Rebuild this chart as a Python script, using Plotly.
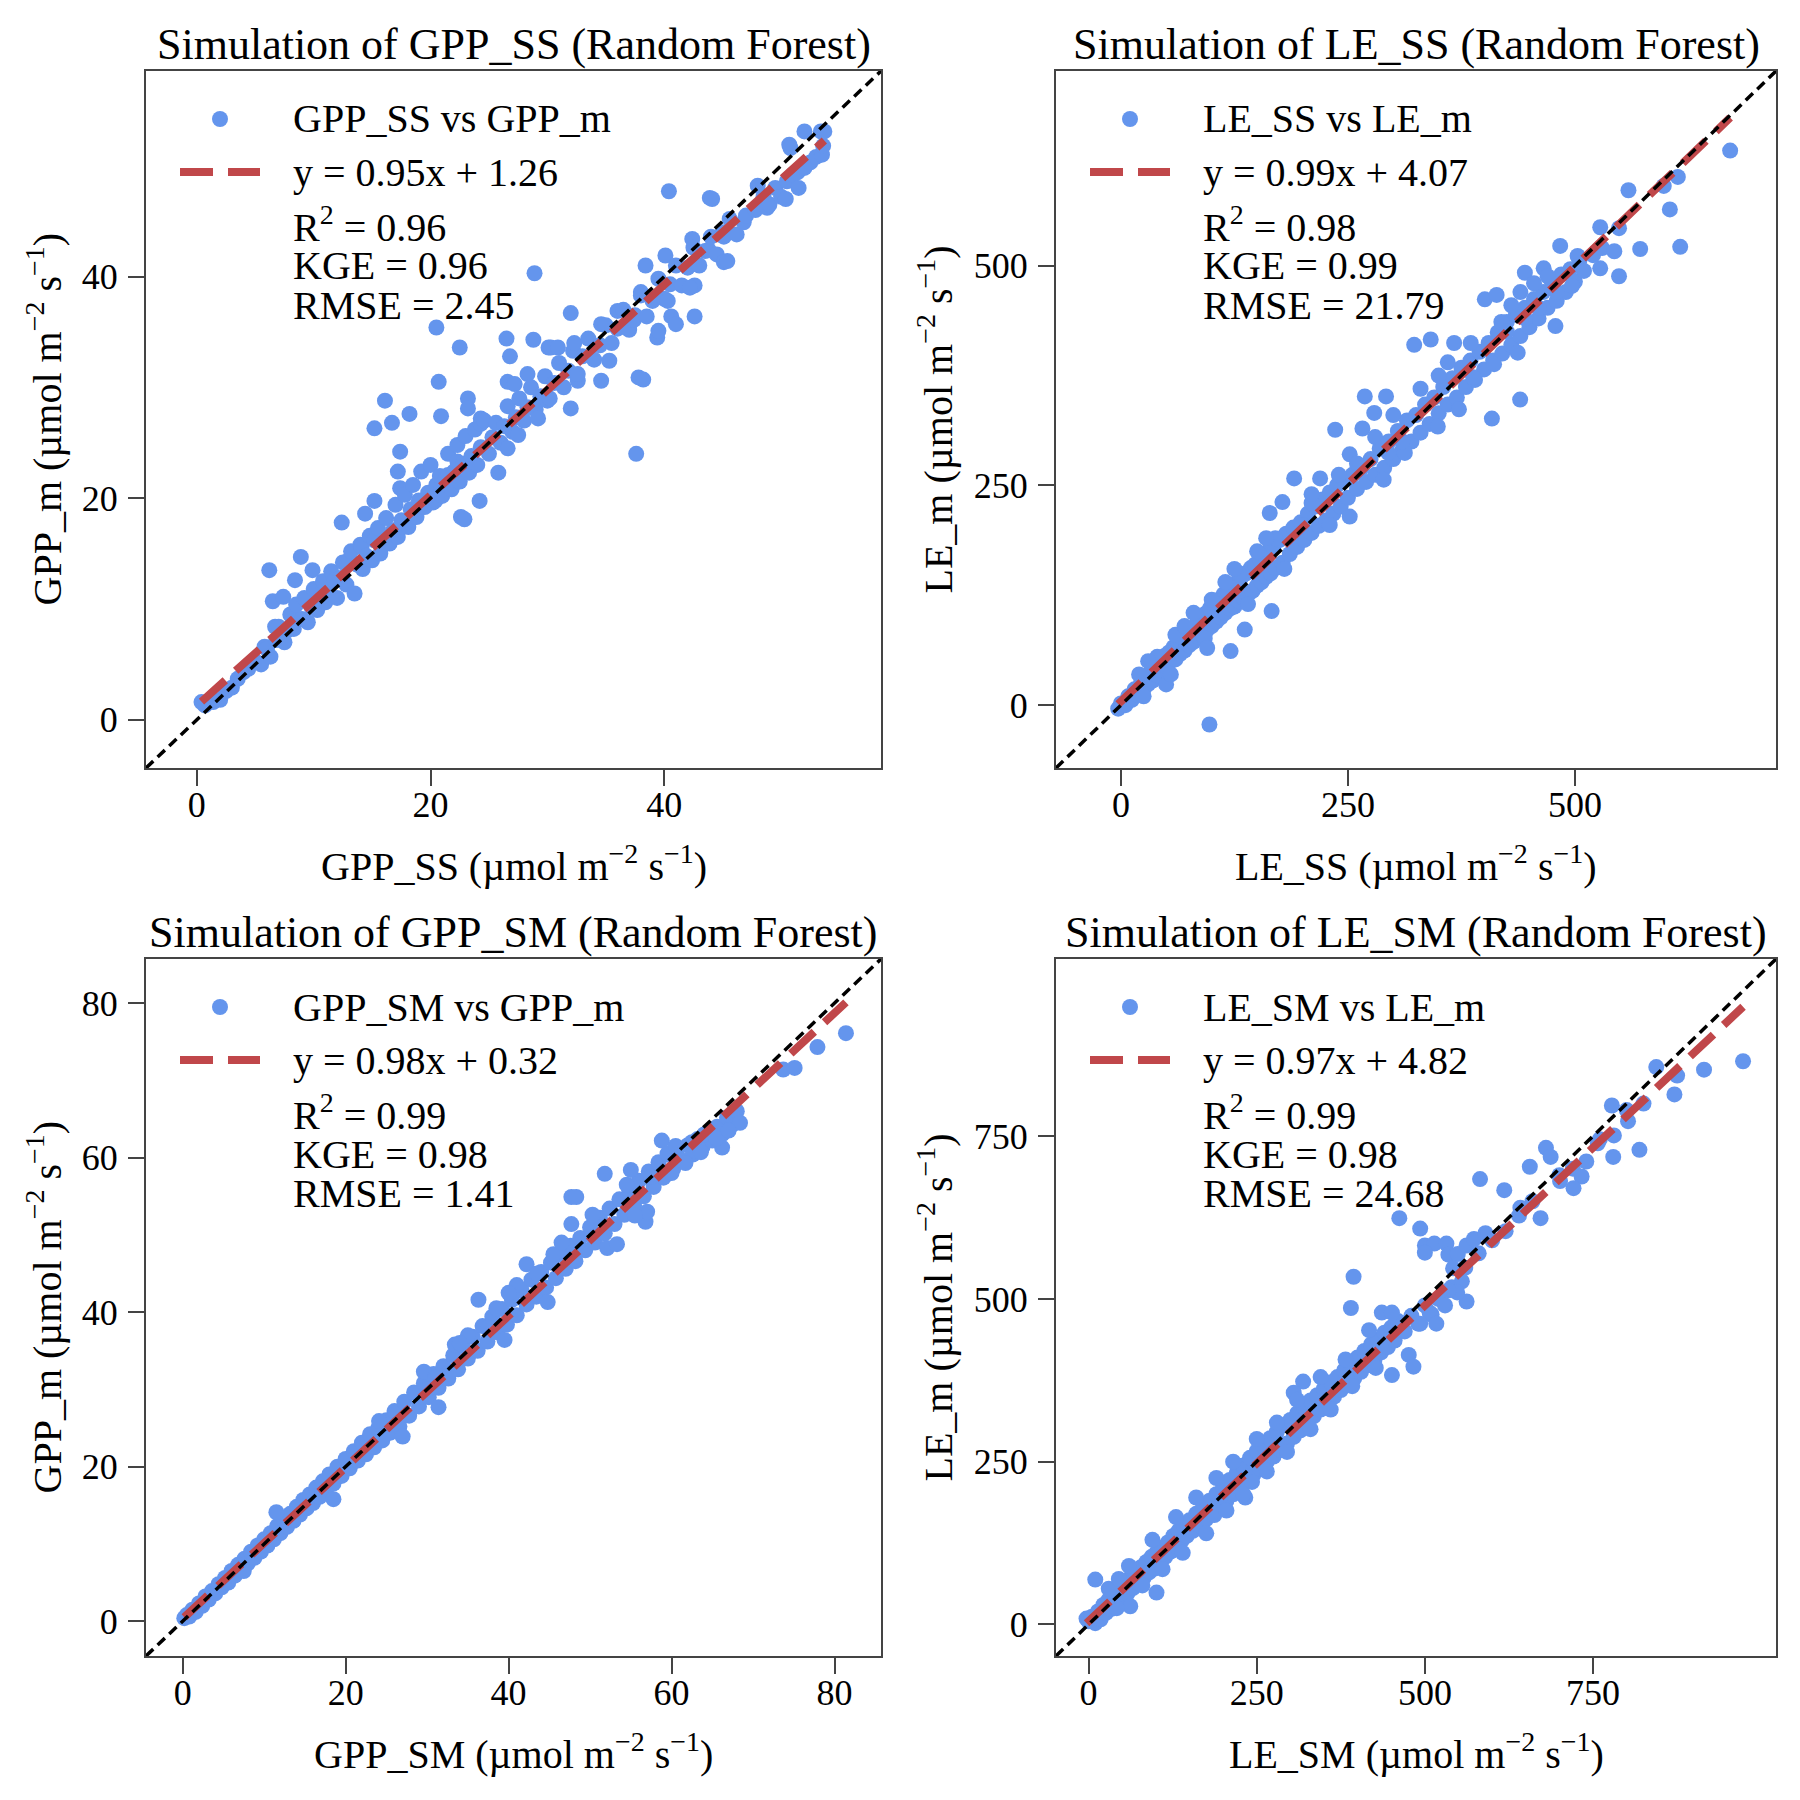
import plotly.graph_objects as go

W = H = 1800
FONT = "Liberation Serif"
BLUE = "#6495ED"
RED = "#C0474A"
FRAME = "#444444"

# ---- chart text ----
titles = [
    "Simulation of GPP_SS (Random Forest)",
    "Simulation of LE_SS (Random Forest)",
    "Simulation of GPP_SM (Random Forest)",
    "Simulation of LE_SM (Random Forest)",
]
unit = "(µmol m<sup>−2</sup> s<sup>−1</sup>)"
x_titles = ["GPP_SS " + unit, "LE_SS " + unit, "GPP_SM " + unit, "LE_SM " + unit]
y_titles = ["GPP_m " + unit, "LE_m " + unit, "GPP_m " + unit, "LE_m " + unit]
point_names = ["GPP_SS vs GPP_m", "LE_SS vs LE_m", "GPP_SM vs GPP_m", "LE_SM vs LE_m"]

# ---- fit statistics ----
slopes = [0.95, 0.99, 0.98, 0.97]
intercepts = [1.26, 4.07, 0.32, 4.82]
r2_vals = ["0.96", "0.98", "0.99", "0.99"]
kge_vals = ["0.96", "0.99", "0.98", "0.98"]
rmse_vals = ["2.45", "21.79", "1.41", "24.68"]

# ---- axes ----
tick_vals = [[0, 20, 40], [0, 250, 500], [0, 20, 40, 60, 80], [0, 250, 500, 750]]
axis_ranges = [(-4.35, 58.55), (-71.5, 721.5), (-4.5, 85.7), (-48.4, 1022.0)]

gpp_ss_pts = [
    (0.7, 1.3), (0.4, 1.6), (1.4, 1.6), (2.0, 1.8), (2.5, 2.6), (3.0, 2.9), (3.5, 3.7), (4.0, 4.3),
    (4.4, 4.6), (5.0, 5.3), (5.5, 5.0), (5.8, 6.6), (6.0, 6.4), (6.3, 5.7), (6.5, 10.7), (6.7, 8.4),
    (6.8, 7.2), (7.0, 8.4), (7.4, 11.1), (7.5, 7.0), (7.8, 8.1), (8.0, 9.5), (8.4, 12.6), (8.3, 8.2),
    (8.7, 9.1), (8.5, 10.4), (9.0, 9.1), (9.2, 11.0), (9.5, 8.8), (9.8, 10.2), (10.0, 11.8), (10.1, 10.2),
    (10.3, 9.9), (10.5, 10.8), (10.7, 11.4), (10.8, 12.5), (11.0, 10.6), (11.3, 11.4), (11.5, 13.4),
    (11.8, 12.6), (12.0, 11.0), (12.3, 12.8), (12.5, 14.2), (12.8, 12.2), (13.0, 14.4), (13.2, 15.2),
    (13.5, 11.4), (13.7, 14.0), (14.0, 15.8), (14.1, 15.6), (14.2, 13.6), (14.4, 18.6), (14.5, 14.8),
    (14.8, 16.6), (15.0, 14.4), (15.2, 16.2), (15.2, 19.75), (15.5, 17.3), (15.7, 15.0), (16.0, 16.2),
    (16.2, 18.2), (16.5, 15.9), (16.7, 16.8), (16.8, 17.1), (17.0, 19.4), (17.2, 22.4), (17.2, 16.5),
    (17.4, 20.9), (17.4, 24.2), (17.5, 18.0), (17.8, 20.3), (18.0, 17.6), (18.1, 17.4), (18.3, 19.0),
    (18.5, 21.2), (18.7, 18.6), (18.8, 18.3), (19.0, 19.8), (19.2, 22.4), (19.5, 19.2), (19.8, 20.5),
    (20.0, 23.0), (20.2, 19.6), (20.4, 19.75), (20.5, 21.2), (20.8, 22.0), (20.9, 20.9), (20.9, 27.4),
    (21.0, 20.2), (21.3, 21.8), (21.5, 22.1), (21.5, 24.0), (21.8, 20.8), (22.0, 22.4), (22.3, 23.3),
    (22.3, 24.8), (22.5, 21.5), (22.6, 18.3), (22.8, 23.1), (23.0, 25.6), (23.2, 29.0), (23.2, 28.1),
    (23.3, 22.3), (23.5, 23.8), (23.8, 26.2), (24.0, 23.0), (24.2, 19.75), (24.3, 24.6), (24.3, 27.2),
    (24.3, 26.7), (24.6, 27.0), (25.0, 24.0), (25.3, 25.5), (25.6, 26.8), (25.8, 22.3), (26.0, 25.0),
    (26.3, 26.5), (26.6, 28.3), (26.6, 30.5), (26.6, 24.5), (26.8, 32.8), (27.0, 26.0), (27.2, 30.3),
    (27.3, 27.3), (27.5, 25.7), (27.6, 29.0), (28.0, 27.0), (28.3, 28.2), (28.3, 31.2), (28.6, 30.0),
    (28.8, 34.3), (28.9, 40.3), (29.0, 28.0), (29.2, 27.2), (29.4, 29.2), (29.8, 31.0), (30.0, 28.8),
    (30.1, 33.6), (30.2, 29.0), (30.3, 33.6), (30.6, 30.4), (30.9, 33.6), (31.0, 32.2), (31.4, 30.0),
    (31.8, 31.5), (32.0, 28.1), (32.0, 36.7), (32.2, 33.3), (32.3, 34.0), (32.6, 30.6), (32.6, 31.2),
    (33.0, 32.8), (33.5, 34.4), (34.0, 32.5), (34.5, 33.8), (34.6, 35.7), (34.6, 30.6), (35.0, 35.6),
    (35.3, 32.4), (35.5, 34.0), (36.0, 36.9), (36.0, 35.3), (36.5, 37.0), (37.0, 35.2), (37.4, 36.1),
    (37.5, 36.5), (37.6, 24.0), (37.8, 30.9), (38.0, 38.3), (38.0, 38.6), (38.4, 41.0), (38.5, 36.4),
    (39.0, 37.8), (39.4, 34.5), (39.5, 39.8), (40.0, 38.0), (40.1, 41.9), (40.3, 37.8), (40.4, 47.7),
    (40.5, 39.3), (40.6, 36.4), (41.0, 41.0), (41.5, 39.2), (42.0, 40.8), (42.4, 43.4), (42.5, 42.6),
    (42.6, 39.2), (43.0, 41.0), (43.5, 42.3), (43.8, 42.4), (43.9, 47.1), (44.0, 43.6), (44.5, 42.0),
    (45.0, 44.0), (45.1, 43.6), (45.1, 41.3), (45.6, 45.2), (46.2, 43.8), (46.8, 44.9), (47.0, 45.5),
    (47.8, 46.0), (48.0, 48.2), (48.5, 47.2), (48.8, 46.2), (49.0, 46.5), (49.5, 48.0), (50.0, 47.2),
    (50.4, 47.0), (50.5, 48.6), (50.7, 51.9), (51.0, 49.2), (51.4, 49.4), (51.5, 48.0), (52.0, 49.8),
    (52.5, 50.3), (53.0, 50.8), (53.4, 53.1), (53.5, 51.0), (53.6, 51.8),
    (20.5, 35.4), (22.5, 33.6), (16.1, 28.8), (18.2, 27.6), (15.2, 26.3), (16.7, 26.8), (20.7, 30.5),
    (26.5, 34.4), (6.2, 13.5), (8.9, 14.7), (9.9, 13.5), (12.4, 17.8), (22.9, 18.1), (45.4, 41.4),
    (42.2, 39.0), (39.5, 35.1), (41.0, 35.7), (42.6, 36.4), (52.0, 53.1), (50.8, 51.6), (53.7, 53.1),
    (44.1, 47.0), (38.2, 30.7),
]

le_ss_pts = [
    (-3, -4), (0, 2), (5, 0), (8, 10), (12, 6), (15, 18), (18, 12), (22, 25), (25, 18), (28, 32), (30, 24),
    (33, 38), (35, 28), (38, 44), (40, 34), (43, 50), (45, 40), (48, 56), (50, 44), (53, 60), (55, 50),
    (58, 66), (60, 52), (63, 70), (65, 58), (68, 76), (70, 62), (73, 82), (75, 68), (78, 86), (80, 72),
    (83, 92), (85, 78), (88, 98), (90, 80), (93, 104), (95, 86), (98, 110), (100, 90), (103, 116),
    (105, 95), (108, 120), (110, 100), (113, 126), (115, 105), (118, 130), (120, 110), (123, 136),
    (125, 112), (128, 140), (130, 118), (133, 146), (135, 122), (138, 150), (140, 126), (143, 156),
    (145, 130), (148, 160), (150, 136), (153, 166), (155, 140), (158, 170), (160, 146), (163, 176),
    (165, 150), (168, 180), (170, 156), (175, 188), (178, 162), (182, 195), (186, 172), (190, 202),
    (194, 180), (198, 208), (202, 188), (206, 218), (210, 196), (214, 226), (218, 204), (222, 234),
    (226, 210), (230, 242), (234, 218), (238, 250), (242, 226), (246, 256), (250, 236), (255, 262),
    (260, 246), (265, 270), (270, 254), (275, 280), (280, 262), (285, 292), (290, 270), (295, 300),
    (300, 280), (305, 312), (310, 290), (315, 324), (320, 300), (325, 330), (330, 310), (335, 342),
    (340, 320), (345, 350), (350, 332), (355, 362), (360, 342), (365, 372), (370, 350), (375, 384),
    (380, 362), (385, 392), (390, 370), (395, 402), (400, 382), (405, 412), (410, 392), (415, 424),
    (420, 400), (425, 436), (430, 410), (435, 444), (440, 420), (445, 452), (450, 430), (455, 462),
    (460, 440), (465, 470), (470, 452), (475, 480), (480, 460), (485, 490), (490, 470), (495, 496),
    (500, 482), (505, 506), (510, 494), (520, 512), (530, 520),
    (97.5, -22), (120.8, 61.5), (136.4, 86), (166, 107), (49.8, 23.6), (92.3, 75.7), (190.8, 258),
    (219.4, 258), (177.9, 231), (163.9, 218.6), (236, 313.3), (266, 314.8), (268.6, 351.3), (292, 351.3),
    (279, 332.5), (252, 214.5), (252, 285.4), (289.4, 256.5), (294.5, 287), (312.7, 287), (349, 317),
    (372.3, 336.6), (408.6, 326), (439.7, 347.7), (323, 410), (341.2, 416), (367, 412), (385.3, 412),
    (400.8, 461.7), (413.8, 466.7), (444.9, 492), (465.6, 497), (483.8, 522.5), (496.8, 477),
    (478.6, 431.3), (527.9, 497), (548.6, 488), (543.4, 516.4), (571.9, 519), (616, 521.5), (604.6, 564),
    (559, 585.8), (527.9, 543.7), (548.6, 542.7), (597.9, 590.8), (613.4, 601), (671, 631), (503, 511),
    (419, 436), (411, 388), (388, 373), (437, 401),
    (430, 455), (440, 470), (455, 480), (470, 488), (480, 470), (460, 452), (445, 440), (425, 425),
    (350, 375), (360, 390), (330, 360), (300, 330), (310, 300), (280, 305), (260, 275), (240, 262),
    (200, 205), (210, 230), (150, 175), (130, 150), (170, 190), (115, 140), (100, 120), (60, 80),
    (70, 90), (40, 55), (20, 35), (25, 10),
    (30, 50), (55, 35), (80, 105), (95, 65), (125, 155), (140, 115), (160, 190), (180, 155),
    (210, 240), (230, 205),
]

gpp_sm_pts = [
    (0.2, 0.4), (0.5, 0.8), (0.8, 0.6), (1.2, 1.5), (1.6, 1.2), (2.0, 2.3), (2.4, 2.0), (2.8, 3.2),
    (3.2, 2.8), (3.6, 3.9), (4.0, 3.6), (4.4, 4.8), (4.8, 4.4), (5.2, 5.6), (5.6, 5.0), (6.0, 6.5),
    (6.4, 5.9), (6.8, 7.3), (7.2, 6.6), (7.6, 8.1), (8.0, 7.5), (8.4, 9.0), (8.8, 8.2), (9.2, 9.8),
    (9.6, 9.0), (10.0, 10.6), (10.4, 9.8), (10.8, 11.4), (11.2, 10.6), (11.6, 12.3), (12.0, 11.4),
    (12.4, 13.1), (12.8, 12.2), (13.2, 13.9), (13.6, 13.0), (14.0, 14.8), (14.4, 13.8), (14.8, 15.7),
    (15.2, 14.6), (15.6, 16.4), (16.0, 15.3), (16.4, 17.3), (16.8, 16.1), (17.2, 18.1), (17.6, 17.0),
    (18.0, 19.0), (18.5, 17.8), (19.0, 20.0), (19.5, 18.8), (20.0, 21.0), (20.5, 19.8), (21.0, 22.0),
    (21.5, 20.8), (22.0, 23.1), (22.5, 21.6), (23.0, 24.2), (23.5, 22.5), (24.0, 25.0), (24.5, 23.4),
    (25.0, 26.0), (25.5, 24.4), (26.0, 27.2), (26.6, 25.2), (27.2, 28.4), (27.8, 26.6), (28.4, 29.6),
    (29.0, 27.8), (29.6, 30.8), (30.2, 29.0), (30.8, 32.0), (31.4, 30.2), (32.0, 33.0), (32.6, 31.4),
    (33.2, 34.4), (33.8, 32.6), (34.4, 35.6), (35.0, 34.0), (35.6, 36.8), (36.2, 35.0), (36.8, 38.2),
    (37.4, 36.2), (38.0, 39.4), (38.6, 37.4), (39.2, 40.4), (39.8, 38.4), (40.4, 41.6), (41.0, 39.6),
    (41.6, 42.8), (42.2, 41.0), (42.8, 44.2), (43.4, 42.0), (44.0, 45.2), (44.6, 43.2), (45.2, 46.4),
    (45.8, 44.4), (46.4, 47.4), (47.0, 45.6), (47.6, 48.6), (48.2, 46.6), (48.8, 49.6), (49.4, 48.0),
    (50.0, 51.0), (50.6, 49.0), (51.2, 52.2), (51.8, 50.2), (52.4, 53.4), (53.0, 51.4), (53.6, 54.6),
    (54.2, 52.6), (54.8, 55.8), (55.4, 53.8), (56.0, 57.0), (56.6, 55.0), (57.2, 58.2), (57.8, 56.2),
    (58.4, 59.4), (59.0, 57.4), (59.6, 60.4), (60.2, 58.6), (60.8, 61.2), (61.4, 59.6), (62.0, 61.6),
    (62.6, 60.4), (63.2, 62.4), (63.8, 61.4), (64.4, 63.2), (65.0, 62.2), (65.6, 64.0), (66.2, 63.0),
    (66.8, 65.2), (67.4, 64.2), (68.0, 66.0),
    (81.4, 76.1), (77.9, 74.3), (73.7, 71.4), (75.1, 71.6), (68.4, 64.5), (66.2, 61.3), (63.6, 60.7),
    (58.8, 62.2), (61.7, 59.3), (51.8, 57.9), (47.7, 54.9), (48.3, 54.9), (55.0, 58.4), (56.8, 51.7),
    (52.1, 48.3), (53.3, 48.8), (47.7, 51.4), (50.3, 52.6), (42.2, 46.2), (44.8, 41.3), (36.3, 41.6),
    (39.5, 36.4), (33.4, 35.8), (31.4, 27.7), (29.6, 32.3), (27.0, 23.9), (24.1, 25.9), (18.5, 15.8),
    (7.5, 6.5), (11.5, 14.1),
    (54.5, 56.5), (56.0, 55.0), (57.0, 53.0), (55.5, 52.5), (57.5, 57.5), (59.5, 60.5), (60.5, 61.5),
    (62.5, 62.0), (64.0, 63.0), (65.5, 62.5), (67.0, 63.5), (60.0, 58.0), (45.5, 47.5), (46.5, 49.0),
    (43.5, 45.0), (41.0, 43.5), (40.0, 42.5), (38.5, 40.5), (37.5, 38.0), (35.0, 37.0), (34.0, 36.0),
    (32.5, 32.0), (31.0, 31.5), (30.0, 30.0),
]

le_sm_pts = [
    (0, 5), (-3, 9), (5, 12), (10, 2), (14, 20), (18, 8), (22, 30), (26, 18), (30, 38), (34, 24),
    (38, 48), (42, 32), (46, 56), (50, 40), (54, 64), (58, 48), (62, 72), (66, 56), (70, 80), (74, 64),
    (78, 88), (82, 72), (86, 96), (90, 80), (94, 104), (98, 86), (102, 112), (106, 96), (110, 118),
    (114, 104), (118, 126), (122, 112), (126, 136), (130, 120), (134, 144), (138, 128), (142, 152),
    (146, 136), (150, 160), (155, 144), (160, 170), (165, 152), (170, 180), (175, 162), (180, 190),
    (185, 172), (190, 200), (195, 182), (200, 210), (205, 190), (210, 222), (215, 200), (220, 232),
    (225, 210), (230, 244), (235, 220), (240, 256), (245, 230), (250, 266), (255, 240), (260, 274),
    (265, 250), (270, 286), (275, 258), (280, 296), (285, 268), (290, 306), (295, 278), (300, 314),
    (305, 288), (310, 324), (315, 298), (320, 334), (325, 308), (330, 344), (335, 320), (340, 352),
    (345, 330), (350, 362), (355, 340), (360, 372), (365, 350), (370, 380), (375, 360), (380, 390),
    (385, 368), (390, 400), (395, 378), (400, 410), (405, 388), (410, 420), (415, 398), (420, 430),
    (425, 406), (430, 438), (435, 418), (440, 448), (445, 426), (450, 456), (455, 436), (460, 466),
    (470, 450), (480, 474), (490, 462), (500, 490), (510, 476), (520, 500), (530, 490), (540, 518),
    (560, 548), (580, 570), (600, 590), (620, 604), (640, 628), (660, 650), (700, 690), (720, 700),
    (760, 745), (800, 790),
    (973, 865), (915, 852), (871, 814), (875, 843), (844, 856), (825, 800), (802, 773), (778, 797),
    (819, 729), (780, 718), (781, 751), (757, 739), (740, 711), (733, 688), (721, 670), (701, 681),
    (680, 732), (687, 718), (656, 703), (672, 624), (642, 640), (618, 667), (582, 684), (462, 624),
    (493, 608), (394, 534), (390, 486), (500, 582), (514, 585), (532, 585), (500, 571), (535, 568),
    (549, 569), (562, 582), (573, 592), (590, 601), (542, 547), (555, 527), (562, 496), (548, 510),
    (535, 513), (507, 479), (517, 462), (493, 462), (476, 414), (483, 396), (451, 383), (427, 394),
    (436, 479), (451, 479), (417, 452), (382, 407), (392, 366), (319, 373), (305, 356), (233, 195),
    (187, 168), (243, 219), (101, 49), (10, 69), (62, 28), (42, 25),
    (30, 55), (45, 70), (60, 90), (80, 60), (95, 130), (110, 85), (130, 165), (140, 110), (160, 195),
    (175, 140), (190, 225), (205, 175), (215, 250), (230, 200), (250, 285), (265, 235), (280, 310),
    (295, 265), (310, 345), (330, 300), (345, 380), (360, 330),
]

panels = [gpp_ss_pts, le_ss_pts, gpp_sm_pts, le_sm_pts]

# panel boxes in page pixels: left, top, right, bottom
boxes = [(138, 63, 873, 760), (1048, 63, 1768, 760), (138, 951, 873, 1648), (1048, 951, 1768, 1648)]
ytitle_offsets = [101, 120, 101, 120]


def fx(p):
    return p / W


def fy(p):
    return 1 - p / H


fig = go.Figure()
annotations = []
shapes = []
layout_axes = {}

for i, pts in enumerate(panels):
    n = "" if i == 0 else str(i + 1)
    xa, ya = "x" + n, "y" + n
    xs = [p[0] for p in pts]
    ys = [p[1] for p in pts]
    lo, hi = axis_ranges[i]

    fig.add_trace(go.Scatter(
        x=xs, y=ys, mode="markers", xaxis=xa, yaxis=ya,
        marker=dict(color=BLUE, size=16, line=dict(width=0)),
        name=point_names[i],
    ))
    fit_x = [min(xs), max(xs)]
    fit_y = [slopes[i] * v + intercepts[i] for v in fit_x]
    fig.add_trace(go.Scatter(
        x=fit_x, y=fit_y, mode="lines", xaxis=xa, yaxis=ya,
        line=dict(color=RED, width=8, dash="32px,14px"),
    ))
    fig.add_trace(go.Scatter(
        x=[lo, hi], y=[lo, hi], mode="lines", xaxis=xa, yaxis=ya,
        line=dict(color="black", width=3.5, dash="10px,6px"),
    ))

    left, top, right, bottom = boxes[i]
    common = dict(
        range=[lo, hi], tickvals=tick_vals[i], showgrid=False, zeroline=False,
        showline=True, mirror=True, linecolor=FRAME, linewidth=2,
        ticks="outside", ticklen=16, tickwidth=2, tickcolor=FRAME,
        tickfont=dict(family=FONT, size=36, color="black"),
    )
    layout_axes["xaxis" + n] = dict(common, domain=[fx(left), fx(right)], anchor=ya,
                                    ticklabelstandoff=-12)
    layout_axes["yaxis" + n] = dict(common, domain=[fy(bottom), fy(top)], anchor=xa,
                                    ticklabelstandoff=3)

    # titles
    annotations.append(dict(x=fx((left + right) / 2), y=fy(top - 27), xref="paper", yref="paper",
                            text=titles[i], showarrow=False, xanchor="center", yanchor="middle",
                            font=dict(family=FONT, size=44, color="black")))
    annotations.append(dict(x=fx((left + right) / 2), y=fy(bottom + 95), xref="paper", yref="paper",
                            text=x_titles[i], showarrow=False, xanchor="center", yanchor="middle",
                            font=dict(family=FONT, size=40, color="black")))
    annotations.append(dict(x=fx(left - ytitle_offsets[i]), y=fy((top + bottom) / 2),
                            xref="paper", yref="paper",
                            text=y_titles[i], showarrow=False, textangle=-90,
                            xanchor="center", yanchor="middle",
                            font=dict(family=FONT, size=40, color="black")))

    # legend block
    lines = [
        (48, point_names[i]),
        (101, "y = %.2fx + %.2f" % (slopes[i], intercepts[i])),
        (153, "R<sup>2</sup> = " + r2_vals[i]),
        (195, "KGE = " + kge_vals[i]),
        (234, "RMSE = " + rmse_vals[i]),
    ]
    for dy, txt in lines:
        annotations.append(dict(x=fx(left + 145), y=fy(top + dy), xref="paper", yref="paper",
                                text=txt, showarrow=False, xanchor="left", yanchor="middle",
                                font=dict(family=FONT, size=40, color="black")))
    shapes.append(dict(type="circle", xref="paper", yref="paper",
                       x0=fx(left + 74 - 8), x1=fx(left + 74 + 8),
                       y0=fy(top + 48 + 8), y1=fy(top + 48 - 8),
                       fillcolor=BLUE, line=dict(width=0)))
    shapes.append(dict(type="line", xref="paper", yref="paper",
                       x0=fx(left + 34), x1=fx(left + 114), y0=fy(top + 101), y1=fy(top + 101),
                       line=dict(color=RED, width=8, dash="33px,15px")))

fig.update_layout(
    width=W, height=H, showlegend=False,
    margin=dict(l=0, r=0, t=0, b=0),
    paper_bgcolor="white", plot_bgcolor="white",
    annotations=annotations, shapes=shapes,
    **layout_axes,
)

fig.write_html("out.html")
